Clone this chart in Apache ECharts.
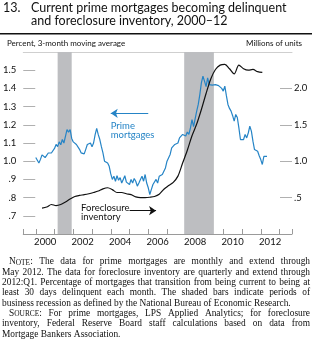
<!DOCTYPE html>
<html><head><meta charset="utf-8">
<script src="https://cdn.jsdelivr.net/npm/echarts@6/dist/echarts.min.js"></script>
<style>html,body{margin:0;padding:0;background:#fff}#c{width:312px;height:342px}</style>
</head><body><div id="c"></div>
<script>
// ---------------- DATA ----------------
const axisStart = [1999, 5];   // first month on the horizontal axis
const axisEnd = [2013, 9];     // last month on the horizontal axis
const yearLabels = ['2000','2002','2004','2006','2008','2010','2012'];
const leftTicks = [0.7, 0.8, 0.9, 1.0, 1.1, 1.2, 1.3, 1.4, 1.5];
const rightTicks = [0.5, 1.0, 1.5, 2.0];
const recessions = [['2001-03', '2001-12'], ['2007-12', '2009-07']];

// Current prime mortgages becoming delinquent, percent, monthly Jan 2000 - May 2012
const primeStart = '2000-01';
const primeMortgages = [
  1.02, 1.01, 0.99, 1.01, 1.035, 1.03, 1.02, 1.025, 1.045, 1.055, 1.045, 1.04,      // 2000
  1.07, 1.092, 1.08, 1.106, 1.09, 1.119, 1.10, 1.137, 1.174, 1.16, 1.174, 1.125,    // 2001
  1.106, 1.115, 1.092, 1.10, 1.065, 1.046, 1.055, 1.04, 1.065, 1.092, 1.085, 1.10,  // 2002
  1.08, 1.10, 1.146, 1.18, 1.146, 1.119, 1.08, 1.046, 1.0, 1.01, 0.99, 0.972,       // 2003
  0.93, 0.90, 0.917, 0.89, 0.92, 0.895, 0.91, 0.88, 0.90, 0.92, 0.885, 0.895,       // 2004
  0.872, 0.90, 0.88, 0.905, 0.89, 0.863, 0.88, 0.90, 0.917, 0.89, 0.927, 0.88,     // 2005
  0.854, 0.817, 0.845, 0.872, 0.88, 0.90, 0.88, 0.917, 0.91, 0.927, 0.936, 0.963,   // 2006
  1.0, 0.99, 1.037, 1.073, 1.065, 1.092, 1.085, 1.10, 1.128, 1.12, 1.147, 1.14,     // 2007
  1.138, 1.16, 1.147, 1.183, 1.229, 1.19, 1.20, 1.275, 1.312, 1.366, 1.43, 1.467,   // 2008
  1.44, 1.41, 1.458, 1.421, 1.425, 1.418, 1.412, 1.421, 1.412, 1.415, 1.41, 1.40,   // 2009
  1.385, 1.412, 1.36, 1.312, 1.29, 1.275, 1.25, 1.22, 1.257, 1.24, 1.183, 1.119,    // 2010
  1.128, 1.119, 1.147, 1.128, 1.155, 1.192, 1.165, 1.11, 1.064, 1.064, 1.055, 1.03, // 2011
  1.009, 0.982, 1.027, 1.02, 1.027                                                  // 2012
];

// Foreclosure inventory, millions of units, quarterly 2000:Q2 - 2012:Q1 (plotted mid-quarter)
const foreclosureStart = '2000-05';
const foreclosureInventory = [
  0.355, 0.37, 0.405,                 // 2000 Q2-Q4
  0.39, 0.405, 0.44, 0.48,            // 2001
  0.515, 0.53, 0.54, 0.553,           // 2002
  0.57, 0.59, 0.62, 0.635,            // 2003
  0.61, 0.57, 0.57, 0.553,            // 2004
  0.54, 0.51, 0.50, 0.50,             // 2005
  0.505, 0.515, 0.545, 0.615,         // 2006
  0.665, 0.71, 0.795, 0.975,          // 2007
  1.15, 1.35, 1.51, 1.71,             // 2008
  1.93, 2.13, 2.26, 2.32,             // 2009
  2.33, 2.27, 2.20, 2.32,             // 2010
  2.27, 2.25, 2.26, 2.23,             // 2011
  2.22                                // 2012 Q1
];

const titleLines = ['Current prime mortgages becoming delinquent', 'and foreclosure inventory, 2000\u201312'];
const noteLines = [
  'NOTE: The data for prime mortgages are monthly and extend through',
  'May 2012. The data for foreclosure inventory are quarterly and extend through',
  '2012:Q1. Percentage of mortgages that transition from being current to being at',
  'least 30 days delinquent each month. The shaded bars indicate periods of',
  'business recession as defined by the National Bureau of Economic Research.',
  'SOURCE: For prime mortgages, LPS Applied Analytics; for foreclosure',
  'inventory, Federal Reserve Board staff calculations based on data from',
  'Mortgage Bankers Association.'
];

// ---------------- BUILD ----------------
const BLUE = '#2584c6';
const SANS = 'Lato, "Open Sans", sans-serif';
const SERIF = '"Liberation Serif", "Times New Roman", serif';
function ym(y, m) { return y + '-' + String(m).padStart(2, '0'); }
const months = [];
{ let y = axisStart[0], m = axisStart[1];
  while (y < axisEnd[0] || (y === axisEnd[0] && m <= axisEnd[1])) { months.push(ym(y, m)); m++; if (m > 12) { m = 1; y++; } } }
const lastIdx = months.length - 1;

function addMonths(label, k) {
  let y = +label.slice(0, 4), m = +label.slice(5, 7) - 1 + k;
  y += Math.floor(m / 12); m = ((m % 12) + 12) % 12;
  return ym(y, m + 1);
}
const primeData = primeMortgages.map((v, i) => [addMonths(primeStart, i), v]);
const fcData = foreclosureInventory.map((v, i) => [addMonths(foreclosureStart, i * 3), v]);

function fmtDec(v) { const s = v.toFixed(1); return v < 1 ? s.slice(1) : s; }

const chart = echarts.init(document.getElementById('c'), null, { renderer: 'canvas' });

const AXIS_GRAY = '#9a9a9a';
const option = {
  animation: false,
  backgroundColor: '#fff',
  textStyle: { fontFamily: SANS },
  grid: { left: 20, right: 20, top: 52, bottom: 108, containLabel: false },
  xAxis: [{
    type: 'category', data: months, boundaryGap: false,
    axisLine: { lineStyle: { color: AXIS_GRAY, width: 1 } },
    axisTick: { inside: true, length: 5, lineStyle: { color: AXIS_GRAY },
      interval: (i, v) => v.endsWith('-01') || i === 0 || i === lastIdx },
    axisLabel: { interval: (i, v) => v.endsWith('-07') && yearLabels.includes(v.slice(0, 4)),
      formatter: v => v.slice(0, 4), color: '#111', fontSize: 9.5, margin: 3, fontFamily: SANS },
    splitLine: { show: false }
  }, {
    type: 'category', data: months, boundaryGap: false, position: 'top',
    axisLine: { lineStyle: { color: '#cfcfcf', width: 1 } },
    axisTick: { show: false }, axisLabel: { show: false }, splitLine: { show: false }
  }],
  yAxis: [{
    type: 'value', min: 0.6, max: 1.6, interval: 0.1, position: 'left',
    axisLine: { show: false },
    axisTick: { show: true, inside: true, length: 12, lineStyle: { color: '#b0b0b0' }, customValues: leftTicks },
    axisLabel: { customValues: leftTicks, formatter: fmtDec, color: '#111', fontSize: 9.5, margin: 7, fontFamily: SANS },
    splitLine: { show: false }
  }, {
    type: 'value', min: 0, max: 2.5, interval: 0.5, position: 'right',
    axisLine: { show: false },
    axisTick: { show: true, inside: true, length: 12, lineStyle: { color: '#b0b0b0' }, customValues: rightTicks },
    axisLabel: { customValues: rightTicks, formatter: fmtDec, color: '#111', fontSize: 9.5, margin: 2, fontFamily: SANS },
    splitLine: { show: false }
  }],
  series: [{
    name: 'Prime mortgages', type: 'line', xAxisIndex: 0, yAxisIndex: 0, data: primeData,
    symbol: 'none', lineStyle: { color: BLUE, width: 1.2 }, itemStyle: { color: BLUE }, z: 3,
    markArea: { silent: true, z: 1, itemStyle: { color: '#bdbec1' },
      data: recessions.map(r => [{ xAxis: r[0] }, { xAxis: r[1] }]) },
    markLine: { silent: true, symbol: ['none', 'arrow'], symbolSize: 7,
      itemStyle: { color: BLUE }, emphasis: { disabled: true },
      lineStyle: { color: BLUE, width: 1, type: 'solid', opacity: 1 }, label: { show: false },
      data: [[{ coord: ['2006-01', 1.263] }, { coord: ['2004-01', 1.263] }]] }
  }, {
    name: 'Foreclosure inventory', type: 'line', xAxisIndex: 0, yAxisIndex: 1, data: fcData,
    symbol: 'none', smooth: 0.3, lineStyle: { color: '#111', width: 1.2 }, itemStyle: { color: '#111' }, z: 4,
    markLine: { silent: true, symbol: ['none', 'arrow'], symbolSize: 7,
      itemStyle: { color: '#111' }, emphasis: { disabled: true },
      lineStyle: { color: '#111', width: 1, type: 'solid', opacity: 1 }, label: { show: false },
      data: [[{ coord: ['2005-01', 0.32] }, { coord: ['2006-06', 0.32] }]] }
  }]
};
chart.setOption(option);

// ---------- texts (title, headers, annotations, notes) ----------
const mctx = document.createElement('canvas').getContext('2d');
function mw(t, size, fam) { mctx.font = size + 'px ' + fam; return mctx.measureText(t).width; }

const g = [];
// Title
g.push({ type: 'text', x: 3, y: 8, style: { text: '13.', font: '12.5px ' + SANS, fill: '#111', verticalAlign: 'middle' } });
titleLines.forEach((t, i) => g.push({ type: 'text', x: 31, y: 8 + i * 13, style: { text: t, font: '12.5px ' + SANS, fill: '#111', verticalAlign: 'middle' } }));
// rule
g.push({ type: 'rect', shape: { x: 0, y: 33, width: 312, height: 1.6 }, style: { fill: '#111' } });
// unit headers
g.push({ type: 'text', x: 7, y: 43.5, style: { text: 'Percent, 3-month moving average', font: '8px ' + SANS, fill: '#111', verticalAlign: 'middle' } });
g.push({ type: 'text', x: 302, y: 43.5, style: { text: 'Millions of units', font: '8px ' + SANS, fill: '#111', verticalAlign: 'middle', align: 'right' } });

// Annotations anchored in data space
const p1 = chart.convertToPixel({ xAxisIndex: 0, yAxisIndex: 0 }, ['2004-01', 1.196]);
const p2 = chart.convertToPixel({ xAxisIndex: 0, yAxisIndex: 1 }, ['2002-06', 0.357]);
g.push({ type: 'text', x: p1[0], y: p1[1], style: { text: 'Prime', font: '9.5px ' + SANS, fill: BLUE, verticalAlign: 'middle' } });
g.push({ type: 'text', x: p1[0], y: p1[1] + 9, style: { text: 'mortgages', font: '9.5px ' + SANS, fill: BLUE, verticalAlign: 'middle' } });
g.push({ type: 'text', x: p2[0], y: p2[1], style: { text: 'Foreclosure', font: '9.5px ' + SANS, fill: '#111', verticalAlign: 'middle' } });
g.push({ type: 'text', x: p2[0], y: p2[1] + 8.5, style: { text: 'inventory', font: '9.5px ' + SANS, fill: '#111', verticalAlign: 'middle' } });

// Notes, justified
const FS = 9.4, SC = 7.4, L = 2, R = 310, Y0 = 262, LH = 10.3;
const lastOfPara = [4, 7];
const indentLines = [0, 5];
noteLines.forEach((line, li) => {
  const words = line.split(' ');
  const infos = words.map(w => {
    if (w === 'NOTE:' || w === 'SOURCE:') {
      const a = w[0], b = w.slice(1, -1);
      return { text: '{a|' + a + '}{b|' + b + '}{a|:}', rich: true,
        w: mw(a, FS, SERIF) + mw(b, SC, SERIF) + mw(':', FS, SERIF) };
    }
    return { text: w, w: mw(w, FS, SERIF) };
  });
  const x0 = L + (indentLines.includes(li) ? 7 : 0);
  const total = infos.reduce((s, o) => s + o.w, 0);
  const gap = lastOfPara.includes(li) ? mw(' ', FS, SERIF) : (R - x0 - total) / (infos.length - 1);
  let x = x0;
  const y = Y0 + li * LH;
  infos.forEach(o => {
    const st = { text: o.text, font: FS + 'px ' + SERIF, fill: '#111', verticalAlign: 'middle' };
    if (o.rich) st.rich = { a: { fontSize: FS, fontFamily: SERIF, fill: '#111' }, b: { fontSize: SC, fontFamily: SERIF, fill: '#111', padding: [1.4, 0, 0, 0] } };
    g.push({ type: 'text', x: x, y: y, style: st });
    x += o.w + gap;
  });
});
chart.setOption({ graphic: g });
</script></body></html>
